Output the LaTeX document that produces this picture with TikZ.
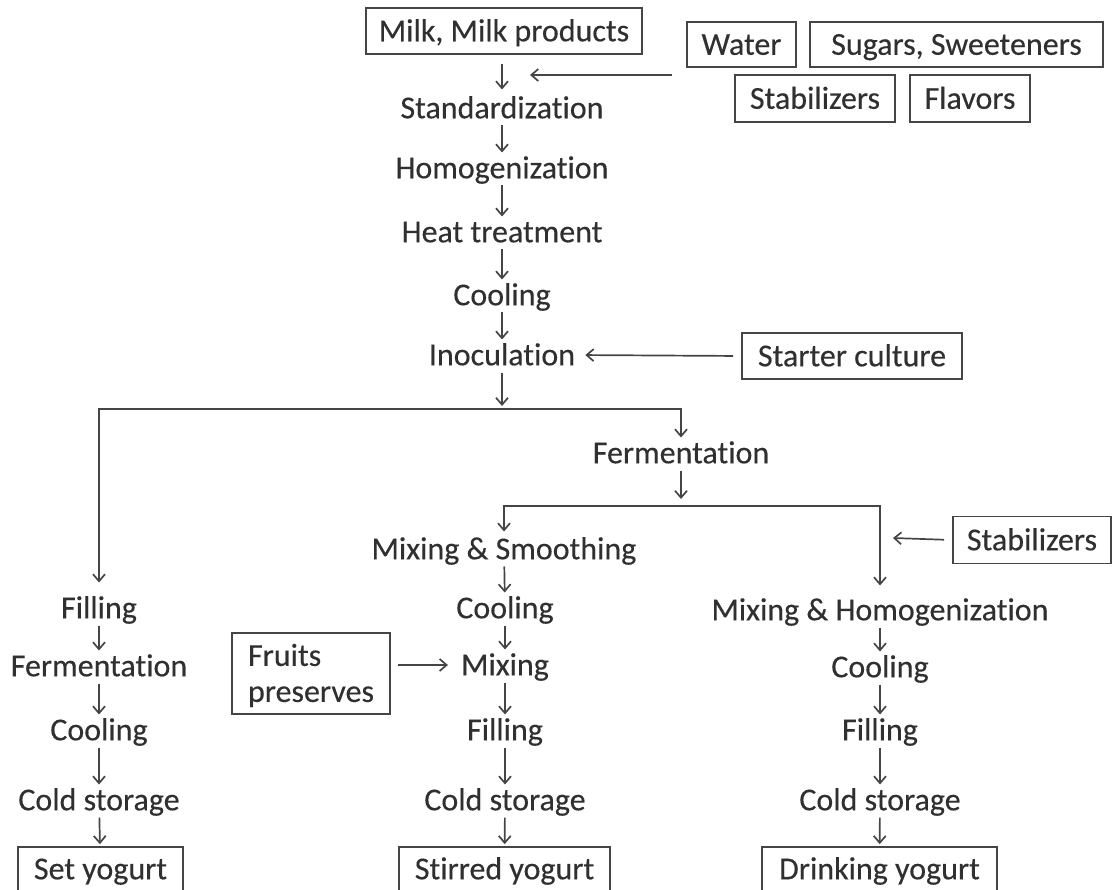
\documentclass[tikz,border=0pt]{standalone}
\usepackage{fontspec}
\setmainfont{Carlito}[Ligatures={NoCommon,NoContextual}, RawFeature={-liga;-clig}, FakeBold=0.3]
\usetikzlibrary{arrows.meta,calc}
\definecolor{txt}{HTML}{303030}
\definecolor{linec}{HTML}{454545}
\begin{document}
\begin{tikzpicture}[x=1pt,y=-1pt,
  every node/.style={font=\fontsize{32}{36}\selectfont, text=txt},
  lbl/.style={inner sep=0pt, text height=20.6pt, text depth=0pt, anchor=center},
  box/.style={lbl, draw=linec, line width=1.7pt},
  arr/.style={draw=linec, line width=1.7pt, -{Straight Barb[length=7pt,width=12pt,line width=1.7pt]}},
  flow/.style={arr, shorten <=7pt, shorten >=5pt},
  ln/.style={draw=linec, line width=1.7pt}]
\useasboundingbox (0,0) rectangle (1113,890);
% top inputs
\node[box, minimum width=276pt, minimum height=46pt] (milk) at (504,31) {Milk, Milk products};
\node[box, minimum width=109pt, minimum height=45pt] (water) at (741.5,44.5) {Water};
\node[box, minimum width=293pt, minimum height=45pt] (sugar) at (956.5,44.5) {Sugars, Sweeteners};
\node[box, minimum width=160pt, minimum height=47pt] (stabA) at (815,98.5) {Stabilizers};
\node[box, minimum width=120pt, minimum height=47pt] (flav) at (970,98.5) {Flavors};
% main column
\node[lbl] (std) at (502,108) {Standardization};
\node[lbl] (hom) at (502,168) {Homogenization};
\node[lbl] (heat) at (502,232) {Heat treatment};
\node[lbl] (coolA) at (502,295) {Cooling};
\node[lbl] (inoc) at (502,355) {Inoculation};
\node[box, minimum width=220pt, minimum height=46pt] (starter) at (852,356) {Starter culture};
\node[lbl] (fermA) at (681,453) {Fermentation};
% middle column
\node[lbl] (mixs) at (504,549) {Mixing \& Smoothing};
\node[lbl] (coolB) at (505,608) {Cooling};
\node[lbl] (mix) at (505,665) {Mixing};
\node[lbl] (fillB) at (505,730) {Filling};
\node[lbl] (coldB) at (505,800) {Cold storage};
\node[box, minimum width=211pt, minimum height=44pt] (stirred) at (504.5,869) {Stirred yogurt};
\node[draw=linec, line width=1.7pt, align=left, inner xsep=16pt, inner ysep=0pt,
      minimum width=158pt, minimum height=81pt, text width=126pt] (fruits) at (311,673.5) {\rule{0pt}{26pt}Fruits\\preserves};
% left column
\node[lbl] (fillA) at (99,608) {Filling};
\node[lbl] (fermB) at (99,666) {Fermentation};
\node[lbl] (coolC) at (99,730) {Cooling};
\node[lbl] (coldA) at (99,800) {Cold storage};
\node[box, minimum width=165pt, minimum height=44pt] (set) at (100.5,869) {Set yogurt};
% right column
\node[lbl] (mixh) at (880,610) {Mixing \& Homogenization};
\node[lbl] (coolD) at (880,667) {Cooling};
\node[lbl] (fillC) at (880,730) {Filling};
\node[lbl] (coldC) at (880,800) {Cold storage};
\node[box, minimum width=235pt, minimum height=44pt] (drink) at (879.5,869) {Drinking yogurt};
\node[box, minimum width=158pt, minimum height=47pt] (stabB) at (1032,540) {Stabilizers};
% junction coordinates
\coordinate (suppS) at (672,75);
\coordinate (suppE) at (530,75);
\coordinate (sp1) at (502,409);
\coordinate (sp2) at (681,506);
\coordinate (stabE) at (893,538);
% connectors main column
\draw[arr, shorten <=9pt, shorten >=8pt] (milk.south -| std.north) -- (std.north);
\draw[arr] (suppS) -- (suppE);
\draw[flow] (std) -- (hom);
\draw[flow] (hom) -- (heat);
\draw[flow] (heat) -- (coolA);
\draw[flow] (coolA) -- (inoc);
\draw[arr, shorten <=8pt, shorten >=10pt] (starter.west) -- (inoc.east);
\draw[arr, shorten <=7pt, shorten >=3pt] (inoc.south) -- (sp1);
\draw[arr, shorten >=15pt] (sp1) -| (fillA.north);
\draw[arr, shorten >=5pt] (sp1) -| (fermA.north);
\draw[arr, shorten <=7pt, shorten >=7pt] (fermA.south) -- (sp2);
\draw[arr, shorten >=7pt] (sp2) -| (mixs.north);
\draw[arr, shorten >=14pt] (sp2) -| (mixh.north);
\draw[arr, shorten <=8pt] (stabB.west) -- (stabE);
% middle
\draw[flow] (mixs) -- (coolB);
\draw[flow] (coolB) -- (mix);
\draw[flow] (mix) -- (fillB);
\draw[flow] (fillB) -- (coldB);
\draw[arr, shorten <=7pt, shorten >=2pt] (coldB) -- (stirred);
\draw[arr, shorten <=7pt, shorten >=13pt] (fruits.east |- mix.west) -- (mix.west);
% left
\draw[flow] (fillA) -- (fermB);
\draw[flow] (fermB) -- (coolC);
\draw[flow] (coolC) -- (coldA);
\draw[arr, shorten <=7pt, shorten >=2pt] (coldA) -- (set);
% right
\draw[flow] (mixh) -- (coolD);
\draw[flow] (coolD) -- (fillC);
\draw[flow] (fillC) -- (coldC);
\draw[arr, shorten <=7pt, shorten >=2pt] (coldC) -- (drink);
\end{tikzpicture}
\end{document}
